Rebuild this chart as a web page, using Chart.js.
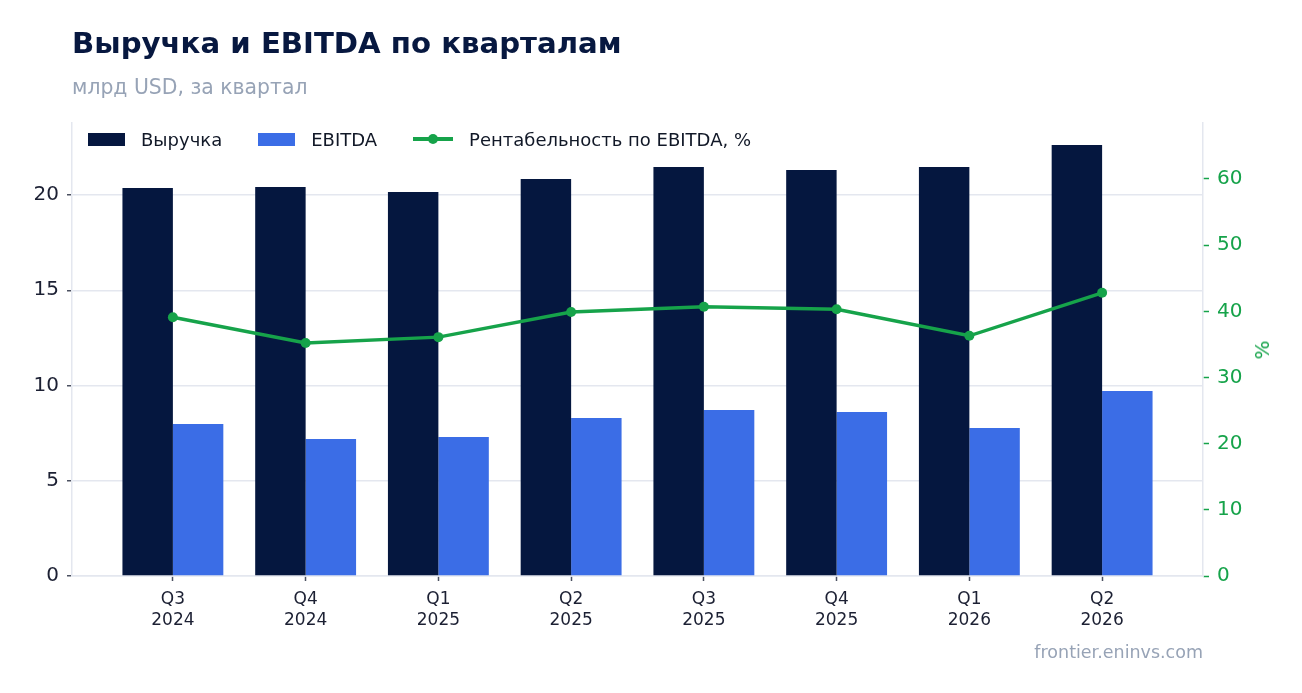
<!DOCTYPE html>
<html lang="ru">
<head>
<meta charset="utf-8">
<script src="https://cdn.jsdelivr.net/npm/chart.js@4.4.4/dist/chart.umd.min.js"></script>
<style>
  html, body { margin: 0; padding: 0; background: #fff; }
  body { width: 1302px; height: 693px; position: relative; overflow: hidden; font-family: "DejaVu Sans", sans-serif; }
  #chart { position: absolute; left: 0; top: 0; }
  .title { position: absolute; left: 72px; top: 29px; font-size: 29.2px; line-height: 1; font-weight: bold; color: #071840; white-space: nowrap; }
  .sub { position: absolute; left: 72px; top: 77px; font-size: 20.4px; line-height: 1; color: #97a3b6; white-space: nowrap; }
  .foot { position: absolute; right: 99px; top: 644px; font-size: 17.5px; line-height: 1; color: #97a3b6; }
  .ylab { position: absolute; left: 1262px; top: 350px; font-size: 20px; line-height: 1; color: #16a34a; transform: translate(-50%, -50%) rotate(-90deg); }
  #legend { position: absolute; left: 88px; top: 129px; height: 20px; display: flex; align-items: center; gap: 36px; font-size: 18px; color: #111827; }
  .item { display: flex; align-items: center; gap: 16px; white-space: nowrap; }
  .box { width: 37px; height: 13px; }
  .ln { width: 40px; height: 4px; position: relative; }
  .ln i { position: absolute; left: 15px; top: -3px; width: 10px; height: 10px; border-radius: 50%; }
</style>
</head>
<body>
<canvas id="chart" width="1302" height="693"></canvas>
<div class="title">Выручка и EBITDA по кварталам</div>
<div class="sub">млрд USD, за квартал</div>
<div id="legend"></div>
<div class="ylab">%</div>
<div class="foot">frontier.eninvs.com</div>
<script>
const quarters = ['Q3 2024', 'Q4 2024', 'Q1 2025', 'Q2 2025', 'Q3 2025', 'Q4 2025', 'Q1 2026', 'Q2 2026'];
const revenue = [20.37, 20.42, 20.16, 20.84, 21.47, 21.31, 21.47, 22.62];
const ebitda = [7.98, 7.19, 7.30, 8.29, 8.71, 8.61, 7.77, 9.71];
const margin = [39.1, 35.2, 36.1, 39.9, 40.7, 40.3, 36.3, 42.8];
const leftTicks = [0, 5, 10, 15, 20];
const rightTicks = [0, 10, 20, 30, 40, 50, 60];

const NAVY = '#05173f';
const BLUE = '#3b6de6';
const GREEN = '#16a34a';
const GRID = '#e4e7ef';
const INK = '#1c2033';
const FONT = '"DejaVu Sans", sans-serif';

const pts = arr => arr.map((v, i) => ({ x: i, y: v }));

const chart = new Chart(document.getElementById('chart'), {
  data: {
    datasets: [
      { type: 'bar', label: 'Выручка', data: pts(revenue), backgroundColor: NAVY, yAxisID: 'y',
        barPercentage: 1, categoryPercentage: 0.76, order: 1 },
      { type: 'bar', label: 'EBITDA', data: pts(ebitda), backgroundColor: BLUE, yAxisID: 'y',
        barPercentage: 1, categoryPercentage: 0.76, order: 1 },
      { type: 'line', label: 'Рентабельность по EBITDA, %', data: pts(margin), yAxisID: 'y1',
        borderColor: GREEN, backgroundColor: GREEN, borderWidth: 3.5, pointRadius: 5,
        pointBackgroundColor: GREEN, pointBorderWidth: 0, tension: 0, order: 0 },
    ],
  },
  options: {
    responsive: false,
    animation: false,
    layout: { padding: { top: 123, left: 0, right: 0, bottom: 0 } },
    plugins: { legend: { display: false }, tooltip: { enabled: false } },
    scales: {
      x: {
        type: 'linear', offset: false, min: -0.76, max: quarters.length - 1 + 0.76,
        afterBuildTicks: s => { s.ticks = quarters.map((q, i) => ({ value: i })); },
        afterFit: s => { s.height = 117; },
        grid: { offset: false, drawOnChartArea: false, tickLength: 5, tickColor: '#4b5060', tickWidth: 1.5 },
        border: { color: GRID, width: 1.5 },
        ticks: {
          color: INK, padding: 8, maxRotation: 0, autoSkip: false,
          font: { family: FONT, size: 17, lineHeight: 1.25 },
          callback: v => quarters[v] ? quarters[v].split(' ') : '',
        },
      },
      y: {
        position: 'left', min: 0, max: 23.78,
        afterBuildTicks: s => { s.ticks = leftTicks.map(v => ({ value: v })); },
        afterFit: s => { s.width = 72; },
        grid: { color: GRID, lineWidth: 1.5, tickLength: 5, tickColor: '#4b5060', tickWidth: 1.5 },
        border: { color: GRID, width: 1.5 },
        ticks: { color: INK, padding: 8, font: { family: FONT, size: 20 } },
      },
      y1: {
        position: 'right', min: 0, max: 68.46,
        afterBuildTicks: s => { s.ticks = rightTicks.map(v => ({ value: v })); },
        afterFit: s => { s.width = 99; },
        grid: { drawOnChartArea: false, tickLength: 6, tickColor: GREEN, tickWidth: 1.5 },
        border: { color: GRID, width: 1.5 },
        ticks: { color: GREEN, padding: 8, font: { family: FONT, size: 20 } },
      },
    },
  },
});

// legend inside the plot area, top-left
const legend = document.getElementById('legend');
chart.data.datasets.forEach(ds => {
  const item = document.createElement('div');
  item.className = 'item';
  const mark = document.createElement('span');
  if (ds.type === 'bar') {
    mark.className = 'box';
    mark.style.background = ds.backgroundColor;
  } else {
    mark.className = 'ln';
    mark.style.background = ds.borderColor;
    mark.innerHTML = `<i style="background:${ds.borderColor}"></i>`;
  }
  const txt = document.createElement('span');
  txt.textContent = ds.label;
  item.append(mark, txt);
  legend.appendChild(item);
});
</script>
</body>
</html>
